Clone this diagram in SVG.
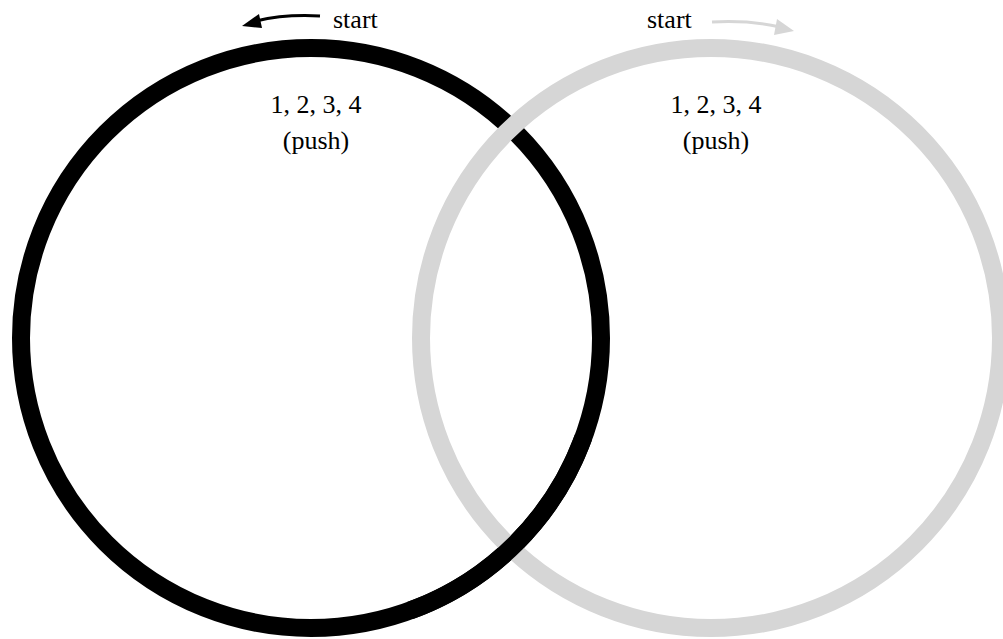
<svg xmlns="http://www.w3.org/2000/svg" width="1003" height="639" viewBox="0 0 1003 639">
<style>
.ring{fill:none;stroke-width:18}
.blk{stroke:#000}
.gry{stroke:#d6d6d6}
text{font-family:"Liberation Serif","Times New Roman",serif;font-size:26px;fill:#000}
.mid{text-anchor:middle}
</style>
<rect width="1003" height="639" fill="#fff"/>
<g id="connectors">
<path d="M320,16 Q285,14 256,21" fill="none" stroke="#000" stroke-width="3"/>
<path d="M242,26 L259,14 L262,28 Z" fill="#000"/>
<path d="M712,22 Q750,20 780,27" fill="none" stroke="#d6d6d6" stroke-width="3"/>
<path d="M794,31 L777,19 L774,35 Z" fill="#d6d6d6"/>
</g>
<g id="left-ring">
<circle class="ring blk" cx="311" cy="338" r="290"/>
</g>
<g id="right-ring">
<circle class="ring gry" cx="711" cy="338" r="290"/>
</g>
<g id="left-ring-overlap">
<path class="ring blk" d="M583.5,437.2 A290,290 0 0 1 410.2,610.5"/>
</g>
<g id="left-label">
<text x="333" y="28">start</text>
<text class="mid" x="316" y="113">1, 2, 3, 4</text>
<text class="mid" x="316" y="149">(push)</text>
</g>
<g id="right-label">
<text x="647" y="28">start</text>
<text class="mid" x="716" y="113">1, 2, 3, 4</text>
<text class="mid" x="716" y="149">(push)</text>
</g>
</svg>
